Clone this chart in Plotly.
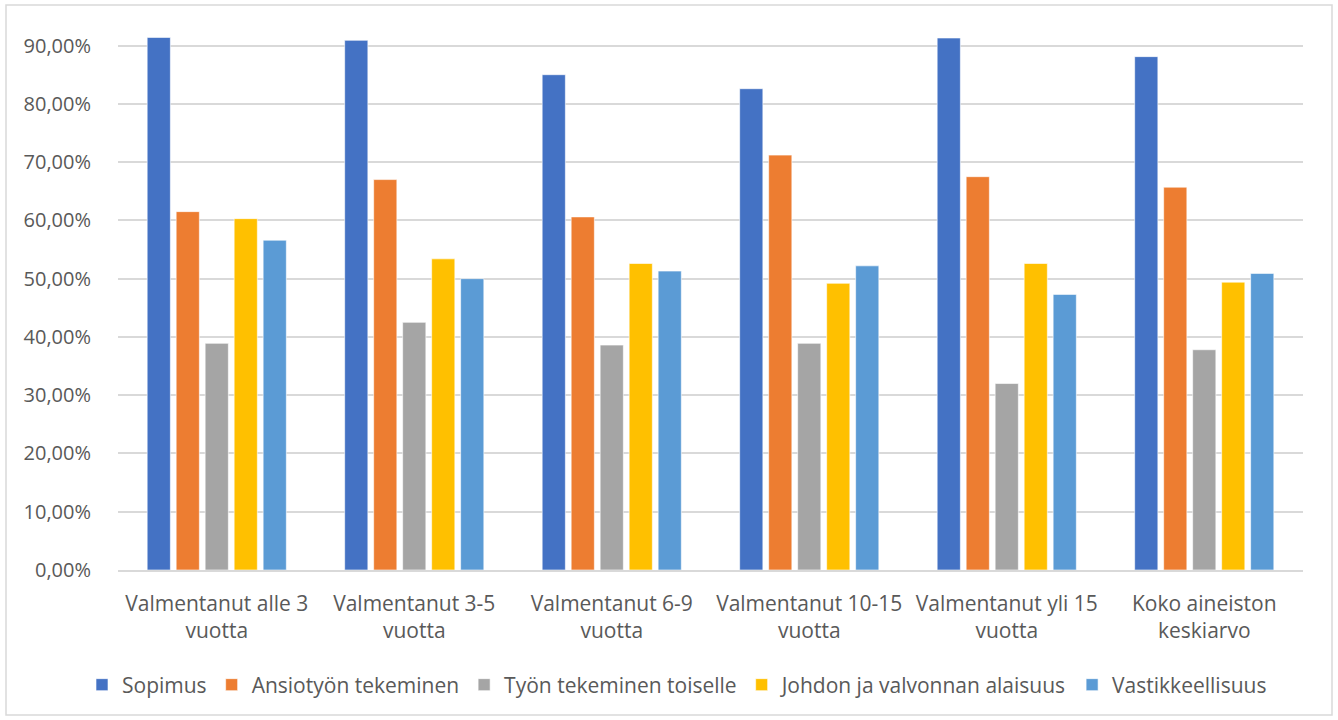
import plotly.graph_objects as go

categories = ["Valmentanut alle 3<br>vuotta", "Valmentanut 3-5<br>vuotta", "Valmentanut 6-9<br>vuotta",
              "Valmentanut 10-15<br>vuotta", "Valmentanut yli 15<br>vuotta", "Koko aineiston<br>keskiarvo"]

sopimus = [0.914, 0.909, 0.850, 0.826, 0.913, 0.881]
ansiotyo = [0.615, 0.670, 0.606, 0.712, 0.675, 0.657]
tyon_toiselle = [0.389, 0.425, 0.386, 0.389, 0.320, 0.378]
johdon = [0.603, 0.534, 0.526, 0.492, 0.526, 0.494]
vastikkeellisuus = [0.566, 0.500, 0.513, 0.522, 0.473, 0.509]

series_names = ["Sopimus", "Ansiotyön tekeminen", "Työn tekeminen toiselle",
                "Johdon ja valvonnan alaisuus", "Vastikkeellisuus"]
series_values = [sopimus, ansiotyo, tyon_toiselle, johdon, vastikkeellisuus]
colors = ["#4472C4", "#ED7D31", "#A5A5A5", "#FFC000", "#5B9BD5"]

fig = go.Figure()
for name, vals, col in zip(series_names, series_values, colors):
    fig.add_trace(go.Bar(x=categories, y=vals, name=name,
                         marker=dict(color=col, line=dict(color="rgba(255,255,255,0.6)", width=1))))

font_family = "Open Sans, Noto Sans, DejaVu Sans, sans-serif"
L, R, T, B = 118, 35, 31, 150
W, H = 1338, 720
pw, ph = W - L - R, H - T - B

def px_to_paper_x(px):
    return (px - L) / pw

def px_to_paper_y(py):
    return (H - B - py) / ph

fig.update_layout(
    width=W, height=H,
    margin=dict(l=L, r=R, t=T, b=B, pad=0),
    paper_bgcolor="white", plot_bgcolor="white",
    barmode="group", bargap=0.266, bargroupgap=0.2,
    separators=", ",
    font=dict(family=font_family, size=21, color="#595959"),
    showlegend=True,
    legend=dict(orientation="h", x=px_to_paper_x(82), xanchor="left", y=px_to_paper_y(685), yanchor="middle",
                font=dict(size=21, color="#595959"), itemwidth=30, traceorder="normal"),
    xaxis=dict(showgrid=False, showline=True, linecolor="#D9D9D9", linewidth=1.5,
               ticks="outside", ticklen=14, tickcolor="rgba(0,0,0,0)",
               tickfont=dict(size=21, color="#595959")),
    yaxis=dict(range=[0, 0.925], tickvals=[i / 10 for i in range(10)], tickformat=".2%",
               showgrid=True, gridcolor="#D9D9D9", gridwidth=1.5, zeroline=False,
               ticks="outside", ticklen=22, tickcolor="rgba(0,0,0,0)",
               tickfont=dict(size=20, color="#595959")),
    shapes=[dict(type="rect", xref="paper", yref="paper",
                 x0=px_to_paper_x(6), x1=px_to_paper_x(1332),
                 y0=px_to_paper_y(715), y1=px_to_paper_y(5),
                 line=dict(color="#D9D9D9", width=1.5), fillcolor="rgba(0,0,0,0)", layer="below")],
)

fig.write_html("out.html")
